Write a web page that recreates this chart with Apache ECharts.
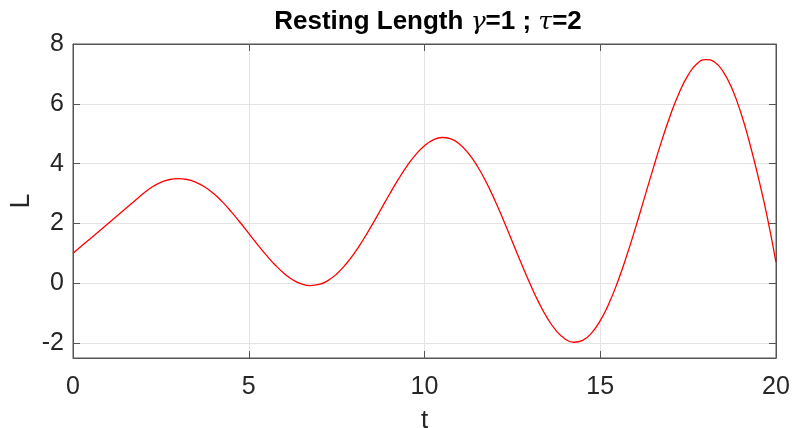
<!DOCTYPE html>
<html>
<head>
<meta charset="utf-8">
<script src="https://cdn.jsdelivr.net/npm/echarts@6/dist/echarts.min.js"></script>
<style>
html,body{margin:0;padding:0;background:#fff;}
#chart{width:792px;height:428px;}
</style>
</head>
<body>
<div id="chart"></div>
<script>
const tValues = [
  0,0.25,0.5,0.75,1,1.25,1.5,1.75,2,2.25,2.5,2.75,3,3.25,3.5,3.75,4,
  4.25,4.5,4.75,5,5.25,5.5,5.75,6,6.25,6.5,6.75,7,7.25,7.5,7.75,8,
  8.25,8.5,8.75,9,9.25,9.5,9.75,10,10.25,10.5,10.75,11,11.25,11.5,11.75,12,
  12.25,12.5,12.75,13,13.25,13.5,13.75,14,14.25,14.5,14.75,15,15.25,15.5,15.75,16,
  16.25,16.5,16.75,17,17.25,17.5,17.75,18,18.25,18.5,18.75,19,19.25,19.5,19.75,20
];
const lValues = [
  1.00,1.25,1.50,1.75,2.00,2.25,2.50,2.75,3.00,3.219,3.375,3.469,3.50,3.469,3.375,3.219,3.00,
  2.721,2.396,2.039,1.667,1.294,0.938,0.612,0.333,0.117,-0.023,-0.078,-0.042,0.088,0.310,0.617,1.00,
  1.445,1.935,2.450,2.967,3.463,3.915,4.301,4.60,4.795,4.874,4.826,4.649,4.344,3.921,3.392,2.778,
  2.101,1.390,0.675,-0.012,-0.639,-1.174,-1.591,-1.863,-1.974,-1.911,-1.669,-1.251,-0.668,0.061,0.909,1.844,
  2.828,3.817,4.768,5.637,6.380,6.959,7.339,7.480,7.400,7.070,6.500,5.700,4.690,3.520,2.220,0.70
];
const xTicks = [0,5,10,15,20];
const yTicks = [-2,0,2,4,6,8];
const titleParts = ['Resting Length ', 'γ', '=1 ; ', 'τ', '=2'];

const axisColor = '#262626';
const boxColor = '#555555';
const gridColor = '#e3e3e3';
const labelFont = 'Liberation Sans';

const chart = echarts.init(document.getElementById('chart'), null, {renderer:'canvas'});
const seriesData = tValues.map((t,i)=>[t, lValues[i]]);

const option = {
  animation:false,
  backgroundColor:'#ffffff',
  title:{
    text:'{b|'+titleParts[0]+'}{g|'+titleParts[1]+'}{b|'+titleParts[2]+'}{g|'+titleParts[3]+'}{b|'+titleParts[4]+'}',
    left:423, top:4, textAlign:'center',
    textStyle:{
      rich:{
        b:{fontFamily:labelFont,fontWeight:'bold',fontSize:26,color:'#000'},
        g:{fontFamily:'DejaVu Serif',fontStyle:'italic',fontWeight:'normal',fontSize:25,color:'#000'}
      }
    }
  },
  grid:{left:73, right:16, top:44, bottom:70, outerBoundsMode:'none', containLabel:false,
    show:true, borderColor:boxColor, borderWidth:1, backgroundColor:'#fff'},
  xAxis:[{
    type:'value', min:0, max:20, interval:5, position:'bottom',
    name:'t', nameLocation:'middle', nameGap:50, nameMoveOverlap:false,
    nameTextStyle:{fontFamily:labelFont,fontSize:26,color:axisColor},
    axisLine:{show:true,onZero:false,lineStyle:{color:boxColor,width:1}},
    axisTick:{show:true,inside:true,length:7,lineStyle:{color:boxColor}},
    axisLabel:{show:true,margin:17,fontFamily:labelFont,fontSize:25,color:axisColor,
      customValues:xTicks},
    splitLine:{show:true,lineStyle:{color:gridColor,width:1}}
  },{
    type:'value', min:0, max:20, interval:5, position:'top',
    axisLine:{show:true,onZero:false,lineStyle:{color:boxColor,width:1}},
    axisTick:{show:true,inside:true,length:7,lineStyle:{color:boxColor}},
    axisLabel:{show:false}, splitLine:{show:false}
  }],
  yAxis:[{
    type:'value', min:-2.5, max:8, splitNumber:5, position:'left',
    name:'L', nameLocation:'middle', nameGap:38, nameRotate:90, nameMoveOverlap:false,
    nameTextStyle:{fontFamily:labelFont,fontSize:27,color:axisColor},
    axisLine:{show:true,onZero:false,lineStyle:{color:boxColor,width:1}},
    axisTick:{show:true,inside:true,length:7,lineStyle:{color:boxColor},customValues:yTicks},
    axisLabel:{show:true,margin:9,fontFamily:labelFont,fontSize:25,color:axisColor,customValues:yTicks},
    splitLine:{show:true,lineStyle:{color:gridColor,width:1}}
  },{
    type:'value', min:-2.5, max:8, splitNumber:5, position:'right',
    axisLine:{show:true,onZero:false,lineStyle:{color:boxColor,width:1}},
    axisTick:{show:true,inside:true,length:7,lineStyle:{color:boxColor},customValues:yTicks},
    axisLabel:{show:false}, splitLine:{show:false}
  }],
  series:[{
    type:'line', xAxisIndex:0, yAxisIndex:0,
    data:seriesData, showSymbol:false, smooth:true,
    lineStyle:{color:'#ff0000',width:1.3}, itemStyle:{color:'#ff0000'},
    z:5
  }]
};
chart.setOption(option);
</script>
</body>
</html>
